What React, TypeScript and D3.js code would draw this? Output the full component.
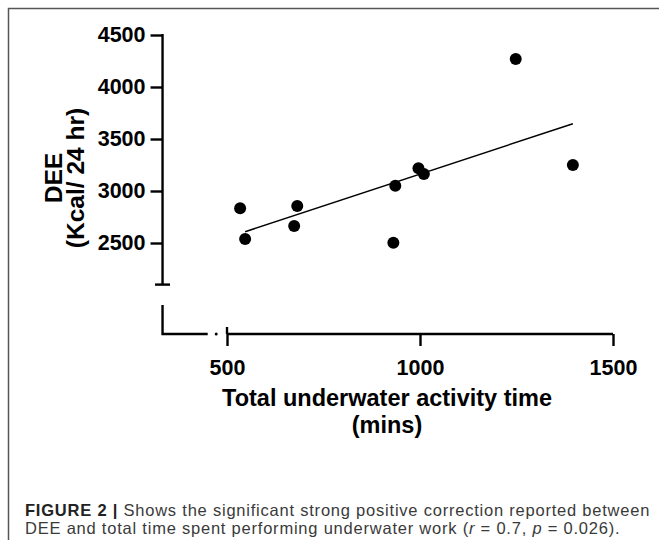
import React, { useEffect, useRef } from "react";
import * as d3 from "d3";

// underwater time (mins) vs daily energy expenditure (kcal / 24 hr)
const activityMins = [534, 547, 682, 674, 936, 931, 996, 1010, 1248, 1396];
const deeKcal = [2834, 2538, 2856, 2663, 3051, 2503, 3218, 3163, 4269, 3250];

// fitted line end points
const fitMins = [547, 1396];
const fitKcal = [2609, 3647];

const xTicks = [500, 1000, 1500];
const yTicks = [2500, 3000, 3500, 4000, 4500];

const captionBold = "FIGURE 2 |";
const captionLine1 = " Shows the significant strong positive correction reported between";
const captionLine2a = "DEE and total time spent performing underwater work (";
const captionLine2b = " = 0.7, ";
const captionLine2c = " = 0.026).";

const W = 659;
const H = 540;
const FONT = "'Liberation Sans', Arial, Helvetica, sans-serif";

export default function App() {
  const svgRef = useRef<SVGSVGElement>(null);

  useEffect(() => {
    const svg = d3.select(svgRef.current);
    svg.selectAll("*").remove();

    const x = d3.scaleLinear().domain([500, 1500]).range([227, 613]);
    const y = d3.scaleLinear().domain([2500, 4500]).range([243, 35]);
    const fmt = d3.format("d");

    // axis break positions (in data units)
    const yMainBottom = 2100;
    const yLowerTop = 1905;
    const yBase = 1625;
    const xStubStart = 333;
    const xStubEnd = 450;
    const xDot = 472;

    const x0 = x(xStubStart);
    const yAxisY = y(yBase);

    // outer frame
    svg.append("path")
      .attr("d", `M8.5,${H + 5}V8.5H${W + 5}`)
      .attr("fill", "none").attr("stroke", "#555").attr("stroke-width", 1.5);

    const axisStroke = 2.4;

    // y axis main segment
    const gy = svg.append("g").attr("transform", `translate(${x0},0)`);
    gy.call(d3.axisLeft(y).tickValues(yTicks).tickFormat(fmt as any).tickSize(12).tickPadding(5).tickSizeOuter(0) as any);
    gy.select(".domain").remove();
    gy.selectAll(".tick line").attr("stroke", "#000").attr("stroke-width", axisStroke);
    gy.selectAll(".tick text")
      .attr("font-family", FONT).attr("font-weight", "bold").attr("font-size", 21.5).attr("fill", "#000");
    gy.append("line")
      .attr("x1", 0).attr("x2", 0).attr("y1", y(4500) - 1).attr("y2", y(yMainBottom))
      .attr("stroke", "#000").attr("stroke-width", axisStroke);
    gy.append("line")
      .attr("x1", -7.5).attr("x2", 7.5).attr("y1", y(yMainBottom)).attr("y2", y(yMainBottom))
      .attr("stroke", "#000").attr("stroke-width", axisStroke);

    // lower stub of y + left stub of x
    svg.append("path")
      .attr("d", `M${x0},${y(yLowerTop)}V${yAxisY}H${x(xStubEnd)}`)
      .attr("fill", "none").attr("stroke", "#000").attr("stroke-width", axisStroke);
    svg.append("circle")
      .attr("cx", x(xDot)).attr("cy", yAxisY).attr("r", 1.5).attr("fill", "#000");

    // x axis main segment
    const gx = svg.append("g").attr("transform", `translate(0,${yAxisY})`);
    gx.call(d3.axisBottom(x).tickValues(xTicks).tickFormat(fmt as any).tickSize(12).tickPadding(14).tickSizeOuter(0) as any);
    gx.select(".domain").remove();
    gx.selectAll(".tick line").attr("stroke", "#000").attr("stroke-width", axisStroke);
    gx.selectAll(".tick text")
      .attr("font-family", FONT).attr("font-weight", "bold").attr("font-size", 21.5).attr("fill", "#000");
    gx.append("line")
      .attr("x1", x(500)).attr("x2", x(1500)).attr("y1", 0).attr("y2", 0)
      .attr("stroke", "#000").attr("stroke-width", axisStroke);
    gx.append("line")
      .attr("x1", x(500)).attr("x2", x(500)).attr("y1", -7).attr("y2", 0)
      .attr("stroke", "#000").attr("stroke-width", axisStroke);

    // axis titles
    const xt = svg.append("g")
      .attr("font-family", FONT).attr("font-weight", "bold").attr("font-size", 23.5)
      .attr("text-anchor", "middle").attr("fill", "#000");
    xt.append("text").attr("x", 387).attr("y", 406).text("Total underwater activity time");
    xt.append("text").attr("x", 387).attr("y", 433).text("(mins)");

    const yt = svg.append("g")
      .attr("font-family", FONT).attr("font-weight", "bold").attr("font-size", 24.5)
      .attr("text-anchor", "middle").attr("fill", "#000")
      .attr("transform", "translate(0,178) rotate(-90)");
    yt.append("text").attr("x", 0).attr("y", 62).text("DEE");
    yt.append("text").attr("x", 0).attr("y", 84).text("(Kcal/ 24 hr)");

    // fitted line
    svg.append("line")
      .attr("x1", x(fitMins[0])).attr("y1", y(fitKcal[0]))
      .attr("x2", x(fitMins[1])).attr("y2", y(fitKcal[1]))
      .attr("stroke", "#000").attr("stroke-width", 1.5);

    // points
    svg.selectAll("circle.pt")
      .data(activityMins.map((m, i) => ({ m, k: deeKcal[i] })))
      .enter().append("circle")
      .attr("class", "pt")
      .attr("cx", d => x(d.m)).attr("cy", d => y(d.k))
      .attr("r", 6).attr("fill", "#000");

    // caption
    const cap = svg.append("g")
      .attr("font-family", FONT).attr("font-size", 16.5).attr("letter-spacing", 0.78).attr("fill", "#3a3a3a");
    const l1 = cap.append("text").attr("x", 25).attr("y", 516);
    l1.append("tspan").attr("font-weight", "bold").attr("fill", "#222").text(captionBold);
    l1.append("tspan").text(captionLine1);
    const l2 = cap.append("text").attr("x", 25).attr("y", 534);
    l2.append("tspan").text(captionLine2a);
    l2.append("tspan").attr("font-style", "italic").text("r");
    l2.append("tspan").text(captionLine2b);
    l2.append("tspan").attr("font-style", "italic").text("p");
    l2.append("tspan").text(captionLine2c);
  }, []);

  return (
    <svg
      ref={svgRef}
      width={W}
      height={H}
      style={{ position: "absolute", left: 0, top: 0, background: "#fff" }}
    />
  );
}
